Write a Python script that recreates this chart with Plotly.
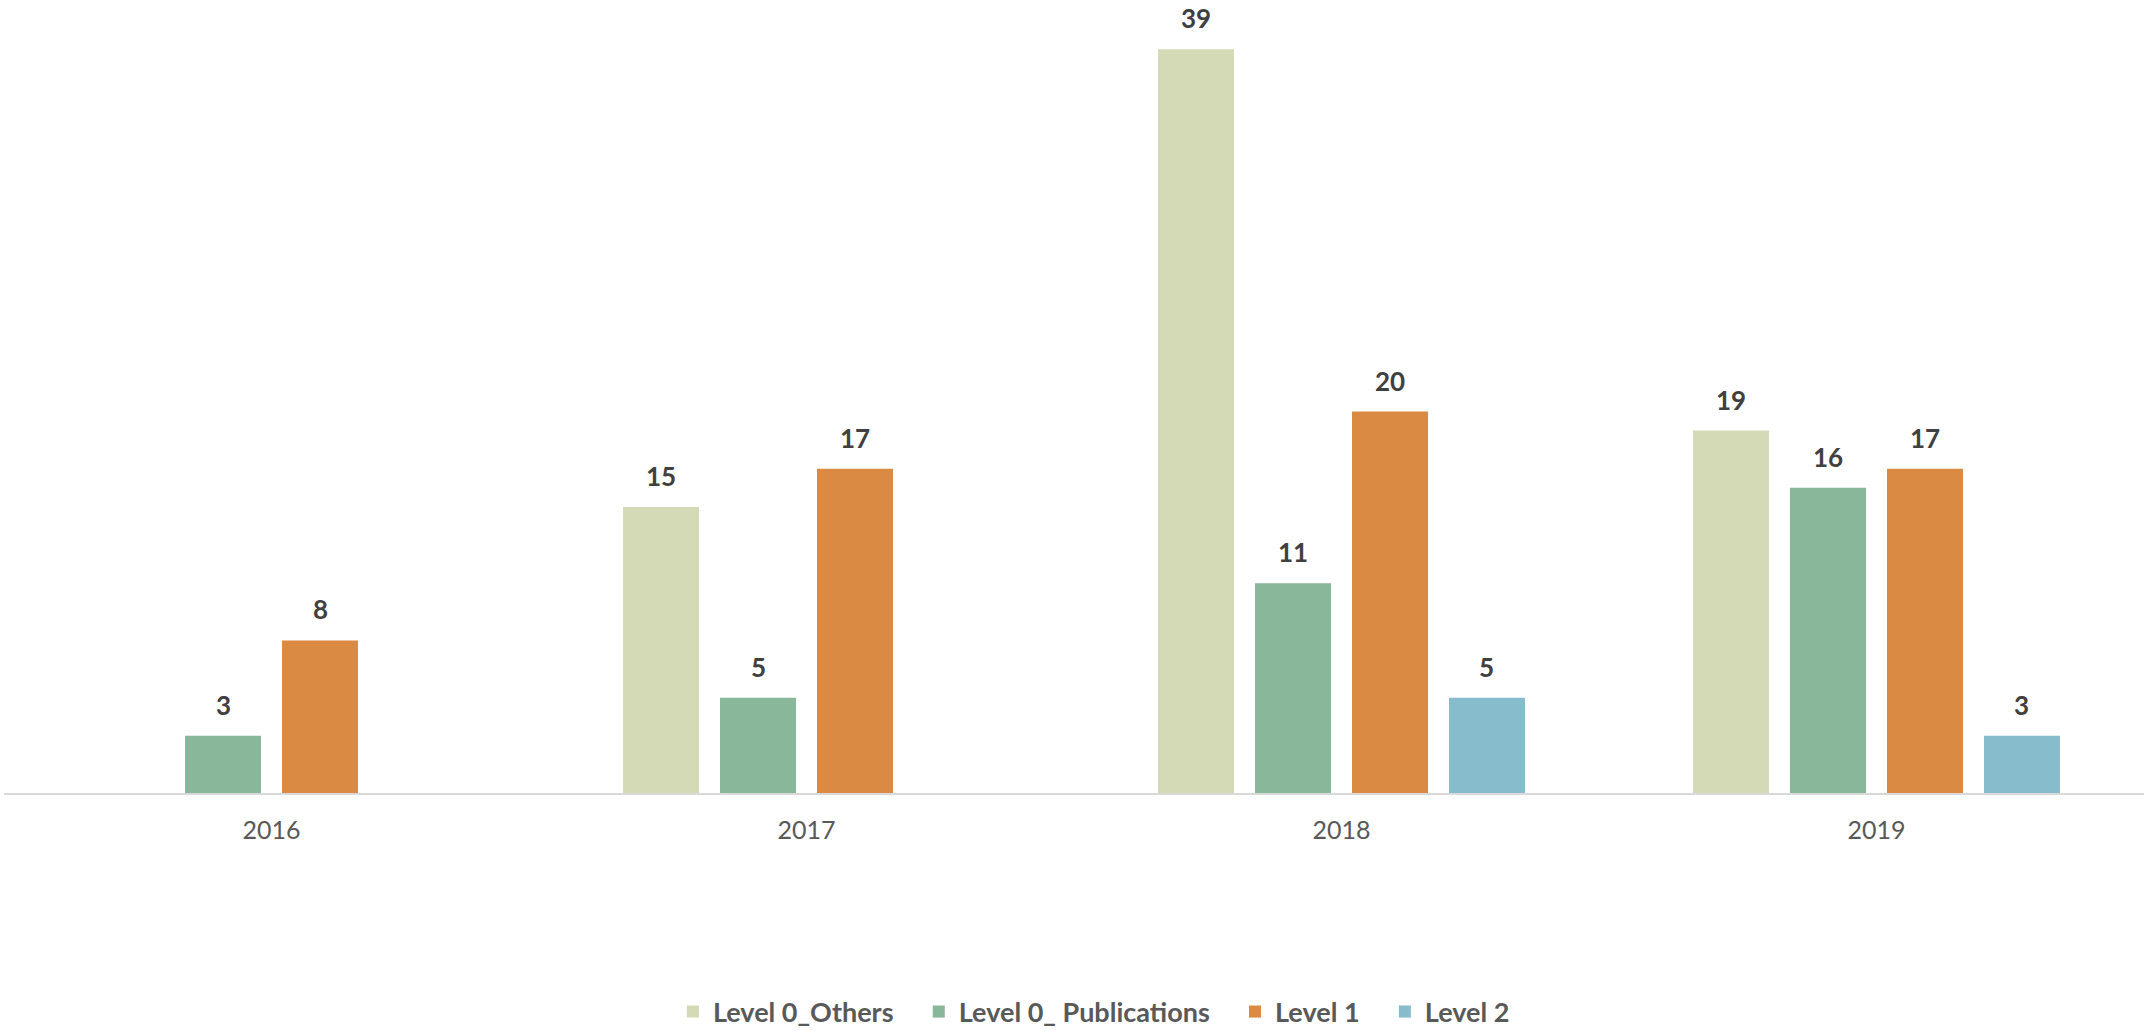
import plotly.graph_objects as go

# Yearly counts per level
years = ["2016", "2017", "2018", "2019"]
series_names = ["Level 0_Others", "Level 0_ Publications", "Level 1", "Level 2"]
level0_others = [None, 15, 39, 19]
level0_publications = [3, 5, 11, 16]
level1 = [8, 17, 20, 17]
level2 = [None, None, 5, 3]

series_values = [level0_others, level0_publications, level1, level2]
colors = ["#D4DAB6", "#89B799", "#DA8A43", "#86BCCB"]

FONT = "Lato, 'Open Sans', 'DejaVu Sans', sans-serif"
n_series = len(series_names)
slot = 0.1813          # width of one bar slot within a year group (axis units)
bar_width = 0.142      # drawn bar width (axis units)

fig = go.Figure()
annotations = []
for j, (name, vals, col) in enumerate(zip(series_names, series_values, colors)):
    offset = (j - (n_series - 1) / 2) * slot
    xs = [i + offset for i in range(len(years))]
    fig.add_trace(go.Bar(
        x=xs, y=vals, name=name + "\u2003", width=bar_width,
        marker=dict(color=col, line=dict(width=0)),
        hoverinfo="skip",
    ))
    for x, v in zip(xs, vals):
        if v is None:
            continue
        annotations.append(dict(
            x=x, y=v, xref="x", yref="y", text=f"<b>{v}</b>",
            showarrow=False, yanchor="bottom", yshift=13,
            font=dict(family=FONT, size=26, color="#404040"),
        ))

fig.update_layout(
    width=2144, height=1031,
    margin=dict(l=4, r=0, t=11, b=238, autoexpand=False),
    barmode="overlay",
    plot_bgcolor="white", paper_bgcolor="white",
    showlegend=True,
    legend=dict(
        orientation="h", x=0.514, xanchor="center",
        yref="container", y=0.0184, yanchor="middle",
        font=dict(family=FONT, size=27, color="#595959", weight="bold"),
        itemwidth=30, traceorder="normal",
    ),
    annotations=annotations,
)
fig.update_xaxes(
    range=[-0.5, len(years) - 0.5],
    tickmode="array", tickvals=list(range(len(years))), ticktext=years,
    showline=True, linecolor="#D9D9D9", linewidth=2,
    showgrid=False, zeroline=False, ticks="", ticklabelstandoff=14,
    tickfont=dict(family=FONT, size=25, color="#595959"),
)
fig.update_yaxes(range=[0, 41], visible=False, showgrid=False, zeroline=False)

fig.write_html("out.html")
